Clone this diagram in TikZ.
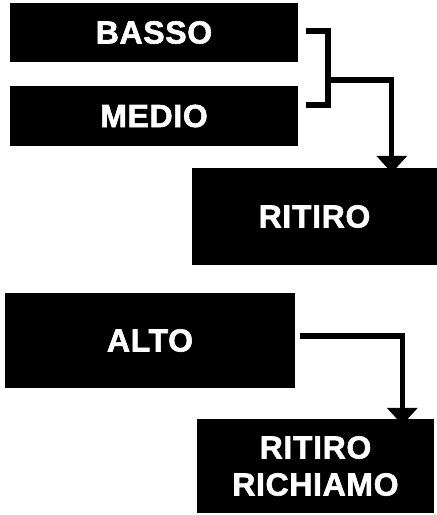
\documentclass[tikz,border=0pt]{standalone}
\usepackage{fontspec}
\setmainfont{Liberation Sans}[LetterSpace=2,FakeBold=1.8]
\usetikzlibrary{arrows.meta}
\begin{document}
\begin{tikzpicture}[x=1pt,y=-1pt,
  blackbox/.style={fill=black,draw=none,text=white,align=center,inner sep=0pt,
    font=\bfseries\fontsize{32}{37}\selectfont},
  link/.style={line width=5.3pt},
  linkarrow/.style={line width=5.3pt,-{Triangle[width=30pt,length=17pt]}}]
\useasboundingbox[fill=white] (0,0) rectangle (437,515);
\node[blackbox,minimum width=288pt,minimum height=59pt] (basso) at (154,32.5) {BASSO};
\node[blackbox,minimum width=288pt,minimum height=60pt] (medio) at (154,116) {MEDIO};
\node[blackbox,minimum width=245pt,minimum height=97pt] (ritiro) at (314.5,216.5) {RITIRO};
\node[blackbox,minimum width=290pt,minimum height=95pt] (alto) at (150,340.5) {ALTO};
\node[blackbox,minimum width=237pt,minimum height=94pt] (rr) at (315.5,466) {RITIRO\\RICHIAMO};
\coordinate (join) at (328,80);
\draw[link] ([xshift=8pt,yshift=1.5pt]basso.east) -| (join) |- ([xshift=8pt,yshift=11pt]medio.east);
\draw[linkarrow] (join) -| ([xshift=200pt,yshift=-5pt]ritiro.north west);
\draw[linkarrow] ([xshift=5pt,yshift=4.5pt]alto.east) -| ([xshift=205.5pt,yshift=-6pt]rr.north west);
\end{tikzpicture}
\end{document}
